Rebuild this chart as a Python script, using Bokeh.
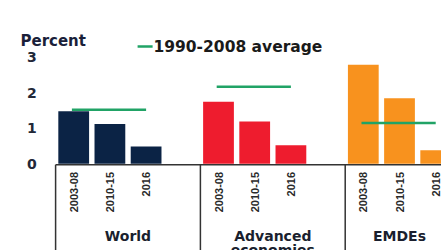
from bokeh.plotting import figure
from bokeh.models import ColumnDataSource, Range1d
from bokeh.core.properties import value
from bokeh.embed import file_html
from bokeh.resources import INLINE
import math

# ---- data ----
groups = ["World", "Advanced economies", "EMDEs"]
group_lines = [["World"], ["Advanced", "economies"], ["EMDEs"]]
periods = ["2003-08", "2010-15", "2016"]
world = [1.48, 1.12, 0.49]
advanced = [1.75, 1.19, 0.52]
emdes = [2.79, 1.85, 0.38]
average_1990_2008 = [1.52, 2.17, 1.15]
y_ticks = [0, 1, 2, 3]
y_tick_labels = ["0", "1", "2", "3"]
colors = ["#0b2345", "#ee1c2e", "#f8921e"]
green = "#21a366"

series = [world, advanced, emdes]

FONT = "DejaVu Sans"

p = figure(width=441, height=250, output_backend="svg", toolbar_location=None,
           x_axis_type=None, y_axis_type=None, min_border=0)
p.x_range = Range1d(-2.022, 10.160)
p.y_range = Range1d(-2.442, 4.600)
p.outline_line_color = None
p.grid.visible = False
p.background_fill_color = "white"
p.border_fill_color = "white"

# bars
bx, btop, bcol, blab = [], [], [], []
for g, vals in enumerate(series):
    for i, v in enumerate(vals):
        bx.append(4 * g + i)
        btop.append(v)
        bcol.append(colors[g])
        blab.append(periods[i])
src = ColumnDataSource(dict(x=bx, top=btop, color=bcol, label=blab))
p.vbar(x="x", top="top", bottom=0, width=0.85, fill_color="color", line_color=None, source=src)

# average lines
ax0 = [4 * g - 0.05 for g in range(len(groups))]
ax1 = [4 * g + 2.0 for g in range(len(groups))]
p.segment(x0=ax0, y0=average_1990_2008, x1=ax1, y1=average_1990_2008,
          line_color=green, line_width=2.5)

# category box lines
bounds = [-0.5, 3.5, 7.5]
last_end = 10.5
p.segment(x0=[-0.5], y0=[-0.025], x1=[12], y1=[-0.025], line_color="#333333", line_width=1.5)
p.segment(x0=bounds, y0=[-0.025] * 3, x1=bounds, y1=[-3] * 3, line_color="#333333", line_width=1.5)

# rotated period labels
p.text(x="x", y=-0.23, text="label", source=src, angle=math.pi / 2,
       text_align="right", text_baseline="middle",
       text_font=value("Liberation Sans"), text_font_style="bold",
       text_font_size="11px", text_color="#2a2a2a")

# group labels
ends = bounds[1:] + [last_end]
for g, lines in enumerate(group_lines):
    cx = (bounds[g] + ends[g]) / 2
    for k, ln in enumerate(lines):
        p.text(x=[cx], y=[-2.02 - 0.395 * k], text=[ln], text_align="center",
               text_baseline="alphabetic", text_font=value(FONT), text_font_style="bold",
               text_font_size="14px", text_color="#1a1f2e")

# y tick labels
p.text(x=[-1.152] * len(y_ticks), y=y_ticks, text=y_tick_labels, text_align="center",
       text_baseline="middle", text_font=value(FONT), text_font_style="bold",
       text_font_size="14px", text_color="#222838")

# axis title
p.text(x=[-1.47], y=[3.459], text=["Percent"], text_align="left", text_baseline="middle",
       text_font=value(FONT), text_font_style="bold", text_font_size="15px",
       text_color="#1a1f3a")

# legend
p.segment(x0=[1.765], y0=[3.304], x1=[2.18], y1=[3.304], line_color=green, line_width=2.5)
p.text(x=[2.204], y=[3.30], text=["1990-2008 average"], text_align="left",
       text_baseline="middle", text_font=value(FONT), text_font_style="bold",
       text_font_size="15.5px", text_color="#1a1a1a")

open("out.html", "w").write(file_html(p, INLINE))
